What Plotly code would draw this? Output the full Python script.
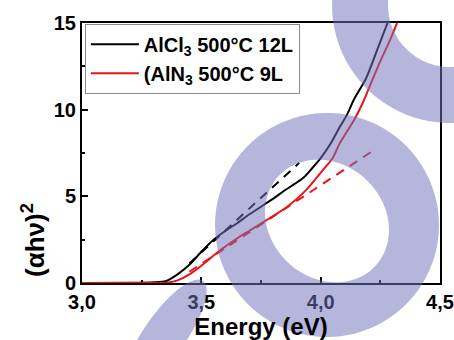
import numpy as np
import plotly.graph_objects as go

# ---------------- data ----------------
series_names = ["AlCl<sub>3</sub> 500°C 12L", "(AlN<sub>3</sub> 500°C 9L"]

alcl3_energy = [3.00, 3.20, 3.30, 3.35, 3.40, 3.45, 3.50, 3.55, 3.60, 3.65, 3.70, 3.75,
                3.80, 3.85, 3.90, 3.93, 3.96, 4.00, 4.04, 4.08, 4.11, 4.14, 4.19, 4.23, 4.28]
alcl3_ahv2 = [0.0, 0.01, 0.04, 0.10, 0.50, 1.05, 1.80, 2.48, 3.00, 3.45, 3.95, 4.40,
              4.85, 5.35, 5.80, 6.10, 6.55, 7.20, 8.00, 9.00, 9.70, 10.6, 11.8, 13.2, 15.0]

aln3_energy = [3.00, 3.30, 3.36, 3.40, 3.45, 3.50, 3.58, 3.66, 3.70, 3.77, 3.86, 3.94,
               4.01, 4.05, 4.08, 4.14, 4.18, 4.21, 4.25, 4.29, 4.32]
aln3_ahv2 = [0.0, 0.0, 0.03, 0.15, 0.50, 1.00, 1.90, 2.67, 3.00, 3.60, 4.40, 5.37,
             6.52, 7.20, 8.06, 9.40, 10.5, 11.5, 12.8, 14.0, 15.0]

alcl3_fit_energy = [3.45, 3.91]
alcl3_fit_ahv2 = [1.13, 6.93]
aln3_fit_energy = [3.45, 4.22]
aln3_fit_ahv2 = [0.65, 7.64]

x_tickvals = [3.0, 3.5, 4.0, 4.5]
x_ticktext = ["3,0", "3,5", "4,0", "4,5"]
x_minor = [3.25, 3.75, 4.25]
y_tickvals = [0, 5, 10, 15]
y_ticktext = ["0", "5", "10", "15"]
y_minor = [2.5, 7.5, 12.5]

# ---------------- layout geometry ----------------
W, H = 454, 340
ML, MR, MT, MB = 82, 14, 23, 57
PW, PH = W - ML - MR, H - MT - MB
FONT = "Liberation Sans, Arial, sans-serif"


def px2paper(px, py):
    return (px - ML) / PW, (H - MB - py) / PH


def ellipse_path(cx, cy, a, b, ang_deg, reverse=False, n=90):
    t = np.linspace(0, 2 * np.pi, n, endpoint=False)
    if reverse:
        t = t[::-1]
    ang = np.deg2rad(ang_deg)
    xs = cx + a * np.cos(t) * np.cos(ang) - b * np.sin(t) * np.sin(ang)
    ys = cy + a * np.cos(t) * np.sin(ang) + b * np.sin(t) * np.cos(ang)
    pts = [px2paper(x, y) for x, y in zip(xs, ys)]
    return "M" + " L".join(f"{x:.4f},{y:.4f}" for x, y in pts) + " Z"


fig = go.Figure()

fig.add_trace(go.Scatter(x=alcl3_energy, y=alcl3_ahv2, mode="lines", name=series_names[0],
                         line=dict(color="black", width=2, shape="spline", smoothing=0.6)))
fig.add_trace(go.Scatter(x=aln3_energy, y=aln3_ahv2, mode="lines", name=series_names[1],
                         line=dict(color="#e8141c", width=2, shape="spline", smoothing=0.6)))
fig.add_trace(go.Scatter(x=alcl3_fit_energy, y=alcl3_fit_ahv2, mode="lines", showlegend=False,
                         line=dict(color="black", width=2, dash="9px,7px")))
fig.add_trace(go.Scatter(x=aln3_fit_energy, y=aln3_fit_ahv2, mode="lines", showlegend=False,
                         line=dict(color="#e8141c", width=2, dash="9px,7px")))

wm = "rgba(115,115,188,0.52)"
shapes = [
    # ring with elliptical hole
    dict(type="path", xref="paper", yref="paper", layer="above", fillrule="evenodd",
         path=ellipse_path(327, 225, 112, 112, 0) + " " + ellipse_path(327, 221, 66, 57, 43, reverse=True),
         fillcolor=wm, line=dict(width=0)),
    # top-right arc
    dict(type="path", xref="paper", yref="paper", layer="above", fillrule="evenodd",
         path=ellipse_path(450, 5, 118, 118, 0) + " " + ellipse_path(450, 5, 62, 62, 0, reverse=True),
         fillcolor=wm, line=dict(width=0)),
    # bottom-left band
    dict(type="path", xref="paper", yref="paper", layer="above",
         path=ellipse_path(165, 335, 66, 21, -55),
         fillcolor=wm, line=dict(width=0)),
]

axis_common = dict(showline=True, linecolor="black", linewidth=2, mirror=True,
                   ticks="inside", ticklen=6, tickwidth=2, tickcolor="black",
                   showgrid=False, zeroline=False, layer="below traces", automargin=False,
                   tickfont=dict(family=FONT, size=20, color="black", weight="bold"))

fig.update_layout(
    width=W, height=H,
    margin=dict(l=ML, r=MR, t=MT, b=MB, pad=0, autoexpand=False),
    paper_bgcolor="white", plot_bgcolor="white",
    xaxis=dict(range=[3.0, 4.5], tickmode="array", tickvals=x_tickvals, ticktext=x_ticktext,
               minor=dict(tickmode="array", tickvals=x_minor, ticks="inside", ticklen=3,
                          tickwidth=2, tickcolor="black"),
               title=dict(text="Energy (eV)", standoff=0,
                          font=dict(family=FONT, size=24, color="black", weight="bold")),
               **axis_common),
    yaxis=dict(range=[0, 15], tickmode="array", tickvals=y_tickvals, ticktext=y_ticktext,
               minor=dict(tickmode="array", tickvals=y_minor, ticks="inside", ticklen=3,
                          tickwidth=2, tickcolor="black"),
               **axis_common),
    legend=dict(x=0.008, y=0.997, xanchor="left", yanchor="top",
                bgcolor="white", bordercolor="#8c8c8c", borderwidth=1,
                font=dict(family=FONT, size=20, color="black", weight="bold"),
                itemwidth=48, tracegroupgap=0),
    shapes=shapes,
    annotations=[dict(text="(αhν)<sup>2</sup>", xref="paper", yref="paper",
                      x=px2paper(33, 0)[0], y=px2paper(0, 240)[1], textangle=-90,
                      showarrow=False, xanchor="center", yanchor="middle",
                      font=dict(family=FONT, size=26, color="black", weight="bold"))],
)

fig.write_html("out.html", config={"displayModeBar": False},
               post_script="document.body.style.margin='0px';")
